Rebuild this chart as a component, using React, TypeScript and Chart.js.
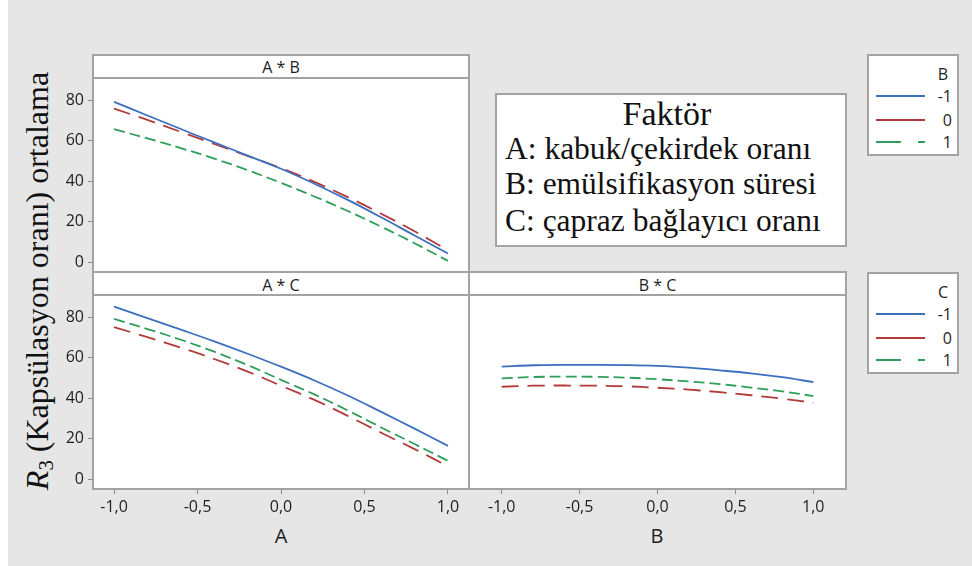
import React, { useEffect, useRef } from 'react';
import { Chart, registerables } from 'chart.js';

Chart.register(...registerables);

const W = 972;
const H = 566;

// ---- data ----
const X_VALUES = [-1, -0.8, -0.6, -0.4, -0.2, 0, 0.2, 0.4, 0.6, 0.8, 1];
const X_TICKS = [-1, -0.5, 0, 0.5, 1];
const X_TICK_LABELS = ['-1,0', '-0,5', '0,0', '0,5', '1,0'];
const Y_TICKS = [0, 20, 40, 60, 80];
const Y_TICK_LABELS = ['0', '20', '40', '60', '80'];
const LEVELS = ['-1', '0', '1'];
const PANEL_TITLES = ['A * B', 'A * C', 'B * C'];
const AXIS_TITLES = ['A', 'B'];
const LEGEND_TITLES = ['B', 'C'];
const FACTOR_TITLE = 'Faktör';
const FACTOR_LINES = ['A: kabuk/çekirdek oranı', 'B: emülsifikasyon süresi', 'C: çapraz bağlayıcı oranı'];

// A * B (lines by B level)
const AB_B_NEG1 = [79.2, 72.5, 65.8, 59.2, 52.7, 46.2, 38.8, 30.8, 22.2, 13.2, 4.3];
const AB_B_0 = [75.9, 70.3, 64.4, 58.4, 52.5, 46.5, 39.7, 32.2, 24.0, 15.3, 5.9];
const AB_B_1 = [65.7, 61.2, 56.4, 51.2, 45.5, 39.2, 32.5, 25.3, 17.6, 9.4, 0.7];

// A * C (lines by C level)
const AC_C_NEG1 = [85.3, 79.6, 73.9, 68.1, 62.0, 55.6, 48.8, 41.4, 33.3, 25.0, 16.5];
const AC_C_0 = [75.1, 70.2, 65.0, 59.4, 53.2, 46.2, 39.2, 31.3, 23.0, 14.9, 6.4];
const AC_C_1 = [79.2, 74.2, 68.9, 63.0, 56.4, 49.1, 41.9, 34.0, 25.6, 17.4, 9.1];

// B * C (lines by C level)
const BC_C_NEG1 = [55.6, 56.3, 56.5, 56.5, 56.4, 56.0, 55.1, 53.8, 52.3, 50.4, 48.0];
const BC_C_0 = [45.7, 46.2, 46.3, 46.2, 45.9, 45.2, 44.3, 43.0, 41.5, 39.8, 37.8];
const BC_C_1 = [49.8, 50.5, 50.7, 50.6, 50.2, 49.4, 48.3, 47.0, 45.3, 43.4, 41.1];

// ---- styles ----
const COLORS = ['#3d6fbf', '#b23a3a', '#2f9e5b'];
const DASHES: number[][] = [[], [17, 9], [11, 5]];
const GRID_COLOR = '#a3a3a3';
const TEXT_COLOR = '#1e1e1e';
const SANS = '"Open Sans", "DejaVu Sans", sans-serif';
const SERIF = '"Liberation Serif", "DejaVu Serif", serif';

type Area = { left: number; top: number; right: number; bottom: number };
type PanelDef = { area: Area; showX: boolean; showY: boolean; xMin: number; xMax: number; series: number[][] };

const YW = 50;
const XH = 45;

const PANELS: PanelDef[] = [
  { area: { left: 93, top: 78, right: 469, bottom: 272 }, showX: false, showY: true, xMin: -1.126, xMax: 1.126, series: [AB_B_NEG1, AB_B_0, AB_B_1] },
  { area: { left: 93, top: 295, right: 469, bottom: 489 }, showX: true, showY: true, xMin: -1.126, xMax: 1.126, series: [AC_C_NEG1, AC_C_0, AC_C_1] },
  { area: { left: 469, top: 295, right: 846, bottom: 489 }, showX: true, showY: false, xMin: -1.21, xMax: 1.21, series: [BC_C_NEG1, BC_C_0, BC_C_1] },
];

function buildConfig(p: PanelDef): any {
  const tickFont = { family: SANS, size: 16 };
  const grid = { drawOnChartArea: false, drawTicks: true, tickLength: 5, color: '#8f8f8f', lineWidth: 1 };
  return {
    type: 'line',
    data: {
      datasets: p.series.map((vals, i) => ({
        label: LEVELS[i],
        data: X_VALUES.map((x, k) => ({ x, y: vals[k] })),
        borderColor: COLORS[i],
        borderWidth: 1.8,
        borderDash: DASHES[i],
        pointRadius: 0,
        tension: 0.4,
        fill: false,
      })),
    },
    options: {
      responsive: false,
      maintainAspectRatio: false,
      animation: false,
      events: [],
      layout: {
        padding: {
          left: p.area.left - (p.showY ? YW : 0),
          top: p.area.top,
          right: W - p.area.right,
          bottom: H - p.area.bottom - (p.showX ? XH : 0),
        },
      },
      plugins: { legend: { display: false }, tooltip: { enabled: false }, title: { display: false } },
      scales: {
        x: {
          type: 'linear',
          display: p.showX,
          min: p.xMin,
          max: p.xMax,
          afterBuildTicks: (s: any) => { s.ticks = X_TICKS.map((v) => ({ value: v })); },
          afterFit: (s: any) => { s.height = p.showX ? XH : 0; },
          grid,
          border: { display: false },
          ticks: {
            autoSkip: false, maxRotation: 0, minRotation: 0, padding: 4, color: TEXT_COLOR, font: tickFont,
            callback: (v: number) => { const i = X_TICKS.indexOf(v); return i >= 0 ? X_TICK_LABELS[i] : ''; },
          },
        },
        y: {
          type: 'linear',
          display: p.showY,
          min: -4.8,
          max: 91,
          afterBuildTicks: (s: any) => { s.ticks = Y_TICKS.map((v) => ({ value: v })); },
          afterFit: (s: any) => { s.width = p.showY ? YW : 0; },
          grid,
          border: { display: false },
          ticks: {
            autoSkip: false, padding: 4, color: TEXT_COLOR, font: tickFont,
            callback: (v: number) => { const i = Y_TICKS.indexOf(v); return i >= 0 ? Y_TICK_LABELS[i] : ''; },
          },
        },
      },
    },
  };
}

function PanelChart({ def }: { def: PanelDef }) {
  const ref = useRef<HTMLCanvasElement | null>(null);
  useEffect(() => {
    if (!ref.current) return;
    const chart = new Chart(ref.current, buildConfig(def));
    return () => chart.destroy();
  }, [def]);
  return <canvas ref={ref} width={W} height={H} style={{ position: 'absolute', left: 0, top: 0, width: W, height: H }} />;
}

function Legend({ title, top }: { title: string; top: number }) {
  const rowOffsets = [40, 64, 86];
  const legendDash = ['', '', '25 17'];
  return (
    <div style={{ position: 'absolute', left: 867, top: top - 1, width: 92, height: 102, boxSizing: 'border-box', border: `2px solid ${GRID_COLOR}`, background: '#fff' }}>
      <div style={{ position: 'absolute', right: 9, top: 18 - 12, height: 24, lineHeight: '24px', fontFamily: SANS, fontSize: 16, color: TEXT_COLOR }}>{title}</div>
      {LEVELS.map((lv, i) => (
        <React.Fragment key={lv}>
          <svg style={{ position: 'absolute', left: 6, top: rowOffsets[i] - 3 }} width={52} height={6}>
            <line x1={1} y1={3} x2={50} y2={3} stroke={COLORS[i]} strokeWidth={2} strokeDasharray={legendDash[i] || undefined} />
          </svg>
          <div style={{ position: 'absolute', right: 5, top: rowOffsets[i] - 12, height: 24, lineHeight: '24px', fontFamily: SANS, fontSize: 16, color: TEXT_COLOR }}>{lv}</div>
        </React.Fragment>
      ))}
    </div>
  );
}

export default function App() {
  useEffect(() => {
    document.body.style.margin = '0';
  }, []);
  const headerStyle = (left: number, width: number, top: number): React.CSSProperties => ({
    position: 'absolute', left, width, top, height: 22, lineHeight: '22px', textAlign: 'center',
    fontFamily: SANS, fontSize: 16, color: TEXT_COLOR,
  });
  const lineTops = [131.4, 166.4, 202.9];
  return (
    <div style={{ position: 'relative', width: W, height: H, background: '#fff', overflow: 'hidden' }}>
      <div style={{ position: 'absolute', left: 8, top: 0, width: W - 8, height: H, background: '#e6e6e6' }} />
      {/* top panel frame */}
      <div style={{ position: 'absolute', left: 92, top: 54, width: 378, height: 219, boxSizing: 'border-box', border: `2px solid ${GRID_COLOR}`, background: '#fff' }} />
      <div style={{ position: 'absolute', left: 92, top: 77, width: 378, height: 2, background: GRID_COLOR }} />
      {/* bottom panels frame */}
      <div style={{ position: 'absolute', left: 92, top: 271, width: 755, height: 219, boxSizing: 'border-box', border: `2px solid ${GRID_COLOR}`, background: '#fff' }} />
      <div style={{ position: 'absolute', left: 468, top: 271, width: 2, height: 219, background: GRID_COLOR }} />
      <div style={{ position: 'absolute', left: 92, top: 294, width: 755, height: 2, background: GRID_COLOR }} />
      {/* panel headers */}
      <div style={headerStyle(93, 376, 56)}>{PANEL_TITLES[0]}</div>
      <div style={headerStyle(93, 376, 274)}>{PANEL_TITLES[1]}</div>
      <div style={headerStyle(469, 377, 274)}>{PANEL_TITLES[2]}</div>
      {/* factor box */}
      <div style={{ position: 'absolute', left: 495, top: 93, width: 352, height: 154, boxSizing: 'border-box', border: `2px solid ${GRID_COLOR}`, background: '#fff' }} />
      <div style={{ position: 'absolute', left: 495, top: 93.5, width: 344, height: 40, lineHeight: '40px', textAlign: 'center', fontFamily: SERIF, fontSize: 34, color: '#111', whiteSpace: 'nowrap' }}>{FACTOR_TITLE}</div>
      {FACTOR_LINES.map((t, i) => (
        <div key={t} style={{ position: 'absolute', left: 505, top: lineTops[i], height: 36, lineHeight: '36px', fontFamily: SERIF, fontSize: 31.5, color: '#111', whiteSpace: 'nowrap' }}>{t}</div>
      ))}
      {/* legends */}
      <Legend title={LEGEND_TITLES[0]} top={55} />
      <Legend title={LEGEND_TITLES[1]} top={273} />
      {/* y-axis title */}
      <div style={{ position: 'absolute', left: 37 - 260, top: 281 - 20, width: 520, height: 40, lineHeight: '40px', textAlign: 'center', transform: 'rotate(-90deg)', fontFamily: SERIF, fontSize: 32, color: '#111', whiteSpace: 'nowrap' }}>
        <i>R</i><sub style={{ fontSize: '0.65em', verticalAlign: '-0.25em', lineHeight: 0 }}>3</sub> (Kapsülasyon oranı) ortalama
      </div>
      {/* x-axis titles */}
      <div style={{ position: 'absolute', left: 231, width: 100, top: 523, height: 26, lineHeight: '26px', textAlign: 'center', fontFamily: SANS, fontSize: 20, color: TEXT_COLOR }}>{AXIS_TITLES[0]}</div>
      <div style={{ position: 'absolute', left: 607, width: 100, top: 523, height: 26, lineHeight: '26px', textAlign: 'center', fontFamily: SANS, fontSize: 20, color: TEXT_COLOR }}>{AXIS_TITLES[1]}</div>
      {PANELS.map((p, i) => <PanelChart key={i} def={p} />)}
    </div>
  );
}
